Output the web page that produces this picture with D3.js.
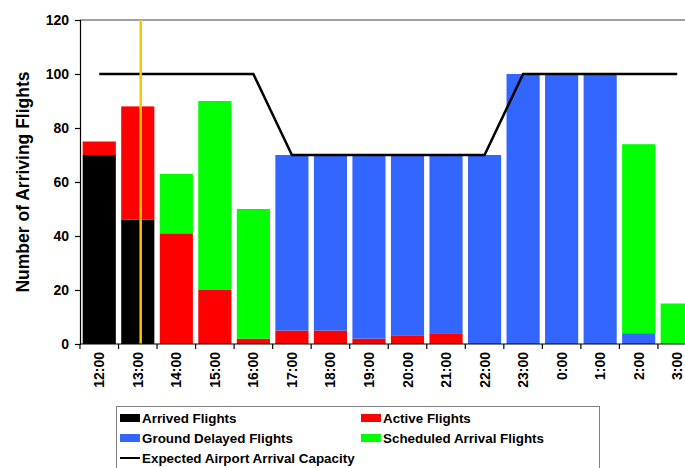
<!DOCTYPE html>
<html>
<head>
<meta charset="utf-8">
<script src="https://cdn.jsdelivr.net/npm/d3@7"></script>
<style>
  html, body { margin: 0; padding: 0; background: #fff; }
  svg { display: block; font-family: Arial, "Liberation Sans", sans-serif; }
</style>
</head>
<body>
<svg id="chart" width="685" height="468"></svg>
<script>
// ---- data ----
const hours = ["12:00","13:00","14:00","15:00","16:00","17:00","18:00","19:00","20:00","21:00","22:00","23:00","0:00","1:00","2:00","3:00"];
const arrived   = [70, 46,  0,  0,  0,  0,  0,  0,  0,  0,  0,   0,   0,   0,  0,  0];
const active    = [ 5, 42, 41, 20,  2,  5,  5,  2,  3,  4,  0,   0,   0,   0,  0,  0];
const delayed   = [ 0,  0,  0,  0,  0, 65, 65, 68, 67, 66, 70, 100, 100, 100,  4,  0];
const scheduled = [ 0,  0, 22, 70, 48,  0,  0,  0,  0,  0,  0,   0,   0,   0, 70, 15];
const capacity  = [100,100,100,100,100, 70, 70, 70, 70, 70, 70, 100, 100, 100,100,100];
const yTicks = [0, 20, 40, 60, 80, 100, 120];
const currentTimeIndex = 1.575; // position of "now" marker, in hour-slots from 12:00
const seriesNames = ["Arrived Flights", "Active Flights", "Ground Delayed Flights", "Scheduled Arrival Flights"];
const lineName = "Expected Airport Arrival Capacity";

// ---- layout ----
const svg = d3.select("#chart");
const mLeft = 80, mTop = 20, plotBottom = 344;
const bandW = 38.53;
const mRight = mLeft + bandW * hours.length;
const colors = ["#000000", "#FF0000", "#3366FF", "#00FF00"];

const x = d3.scaleBand().domain(hours).range([mLeft, mRight]).paddingInner(0.14).paddingOuter(0.07);
const y = d3.scaleLinear().domain([0, 120]).range([plotBottom, mTop]);
const xPos = d3.scaleLinear().domain([0, hours.length]).range([mLeft, mRight]);

const rows = hours.map((h, i) => ({ hour: h, arrived: arrived[i], active: active[i], delayed: delayed[i], scheduled: scheduled[i] }));
const keys = ["arrived", "active", "delayed", "scheduled"];
const stacked = d3.stack().keys(keys)(rows);

// top border
svg.append("line").attr("x1", mLeft).attr("x2", 685).attr("y1", mTop).attr("y2", mTop)
  .attr("stroke", "#808080").attr("stroke-width", 1.5);

// bars
svg.append("g").selectAll("g").data(stacked).join("g")
  .attr("fill", (d, i) => colors[i])
  .selectAll("rect").data(d => d).join("rect")
  .attr("x", d => x(d.data.hour))
  .attr("width", x.bandwidth())
  .attr("y", d => y(d[1]))
  .attr("height", d => Math.max(0, y(d[0]) - y(d[1])));

// capacity line
const line = d3.line().x((d, i) => x(hours[i]) + x.bandwidth() / 2).y(d => y(d));
svg.append("path").datum(capacity).attr("d", line)
  .attr("fill", "none").attr("stroke", "#000").attr("stroke-width", 2.5);

// current time marker
svg.append("line")
  .attr("x1", xPos(currentTimeIndex)).attr("x2", xPos(currentTimeIndex))
  .attr("y1", mTop).attr("y2", plotBottom)
  .attr("stroke", "#FFC400").attr("stroke-width", 2.5);

// y axis
const yAxis = svg.append("g").attr("transform", `translate(${mLeft},0)`)
  .call(d3.axisLeft(y).tickValues(yTicks).tickSize(5).tickPadding(6));
yAxis.select(".domain").attr("stroke", "#000").attr("stroke-width", 1.2);
yAxis.selectAll(".tick line").attr("stroke", "#000").attr("stroke-width", 1.2);
yAxis.selectAll("text").attr("font-size", 14).attr("font-weight", "bold").attr("fill", "#000")
  .attr("font-family", "Arial, 'Liberation Sans', sans-serif");

// x axis
svg.append("line").attr("x1", mLeft).attr("x2", 685).attr("y1", plotBottom).attr("y2", plotBottom)
  .attr("stroke", "#000").attr("stroke-width", 1.2);
const boundaries = d3.range(hours.length + 1);
svg.append("g").selectAll("line").data(boundaries).join("line")
  .attr("x1", d => xPos(d)).attr("x2", d => xPos(d))
  .attr("y1", plotBottom).attr("y2", plotBottom + 5)
  .attr("stroke", "#000").attr("stroke-width", 1.2);
svg.append("g").selectAll("text").data(hours).join("text")
  .attr("transform", d => `translate(${x(d) + x.bandwidth() / 2 + 5},${352}) rotate(-90)`)
  .attr("text-anchor", "end")
  .attr("font-size", 14).attr("font-weight", "bold").attr("fill", "#000")
  .text(d => d);

// y label
svg.append("text")
  .attr("transform", `translate(29,${182}) rotate(-90)`)
  .attr("text-anchor", "middle")
  .attr("font-size", 17.5).attr("font-weight", "bold").attr("fill", "#000")
  .text("Number of Arriving Flights");

// legend
const lg = svg.append("g");
lg.append("rect").attr("x", 116.5).attr("y", 406.5).attr("width", 483).attr("height", 70)
  .attr("fill", "#fff").attr("stroke", "#808080").attr("stroke-width", 1);
const legendItems = seriesNames.map((n, i) => ({ name: n, color: colors[i], col: i % 2, row: Math.floor(i / 2) }));
const colX = [120, 361];
const rowY = [418, 438, 458];
legendItems.forEach(d => {
  lg.append("rect").attr("x", colX[d.col]).attr("y", rowY[d.row] - 4).attr("width", 20).attr("height", 8).attr("fill", d.color);
  lg.append("text").attr("x", colX[d.col] + 22).attr("y", rowY[d.row] + 5)
    .attr("font-size", 13.4).attr("font-weight", "bold").attr("fill", "#000").text(d.name);
});
lg.append("line").attr("x1", colX[0]).attr("x2", colX[0] + 20).attr("y1", rowY[2]).attr("y2", rowY[2])
  .attr("stroke", "#000").attr("stroke-width", 2);
lg.append("text").attr("x", colX[0] + 22).attr("y", rowY[2] + 5)
  .attr("font-size", 13.4).attr("font-weight", "bold").attr("fill", "#000").text(lineName);
</script>
</body>
</html>
